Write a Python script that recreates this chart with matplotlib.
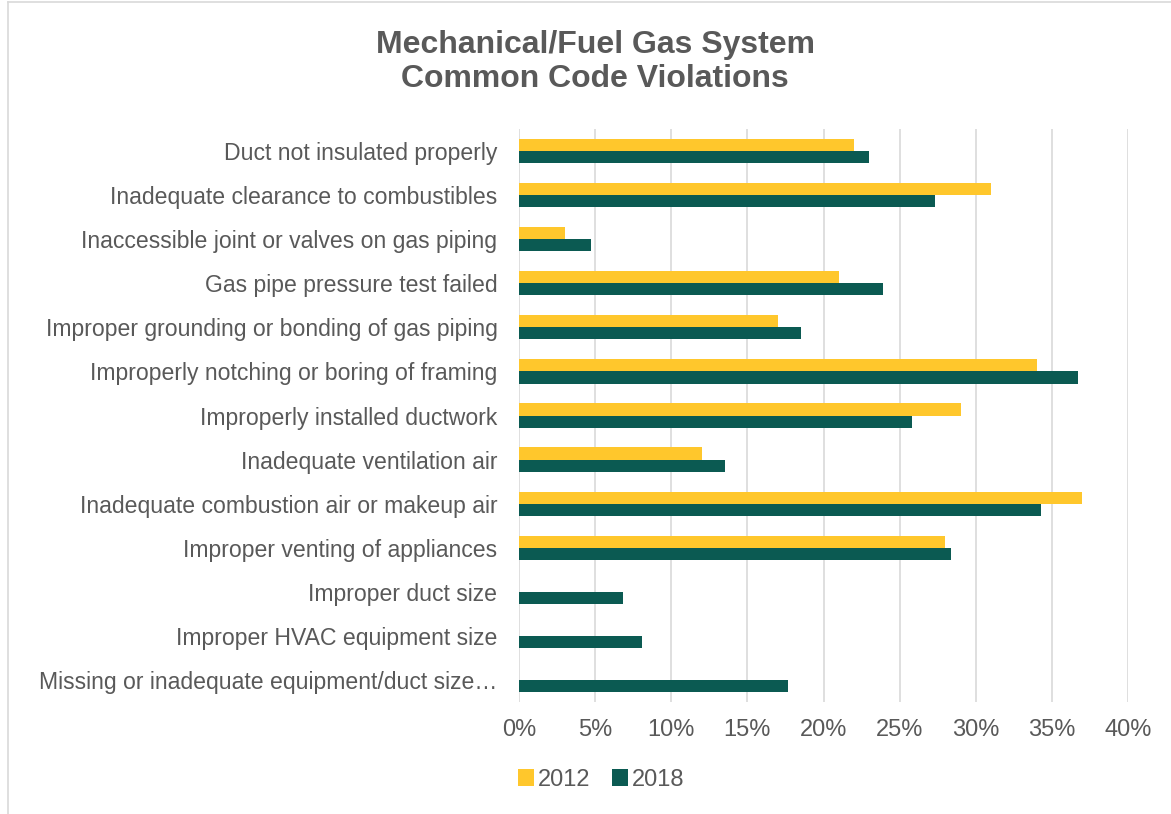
import numpy as np
import matplotlib
matplotlib.use("Agg")
import matplotlib.pyplot as plt
from matplotlib.lines import Line2D
from matplotlib.ticker import PercentFormatter

plt.rcParams['font.family'] = ['Liberation Sans', 'DejaVu Sans']

categories = [
    "Duct not insulated properly",
    "Inadequate clearance to combustibles",
    "Inaccessible joint or valves on gas piping",
    "Gas pipe pressure test failed",
    "Improper grounding or bonding of gas piping",
    "Improperly notching or boring of framing",
    "Improperly installed ductwork",
    "Inadequate ventilation air",
    "Inadequate combustion air or makeup air",
    "Improper venting of appliances",
    "Improper duct size",
    "Improper HVAC equipment size",
    "Missing or inadequate equipment/duct size\u2026",
]
values_2012 = [22, 31, 3, 21, 17, 34, 29, 12, 37, 28, 0, 0, 0]
values_2018 = [23, 27.3, 4.7, 23.9, 18.5, 36.7, 25.8, 13.5, 34.3, 28.4, 6.8, 8.1, 17.7]
series_names = ["2012", "2018"]
x_ticks = [0, 5, 10, 15, 20, 25, 30, 35, 40]

yellow = "#FFC72C"
green = "#0B5A52"
text_grey = "#595959"

W, H = 1171, 814
fig = plt.figure(figsize=(W / 100, H / 100), dpi=100)
ax = fig.add_axes([519 / W, 1 - 702 / H, (1128 - 519) / W, (702 - 129) / H])

y = np.arange(len(categories))
bh = 0.275
ax.barh(y - bh / 2, values_2012, height=bh, color=yellow, linewidth=0, label=series_names[0], zorder=3)
ax.barh(y + bh / 2, values_2018, height=bh, color=green, linewidth=0, label=series_names[1], zorder=3)

ax.set_ylim(len(categories) - 0.5, -0.5)
ax.set_xlim(0, 40)
ax.set_xticks(x_ticks)
ax.xaxis.set_major_formatter(PercentFormatter(decimals=0))
ax.set_yticks(y)
ax.set_yticklabels(categories)
ax.tick_params(axis='y', length=0, pad=15.5, labelsize=16.6, labelcolor=text_grey)
ax.tick_params(axis='x', length=0, pad=12, labelsize=17, labelcolor=text_grey)
ax.grid(axis='x', color="#D9D9D9", linewidth=1.2, zorder=0)
for s in ax.spines.values():
    s.set_visible(False)

fig.text(595 / W, 1 - 62 / H, "Mechanical/Fuel Gas System\nCommon Code Violations",
         ha='center', va='center', fontsize=23, fontweight='bold', color=text_grey,
         linespacing=1.2)

fig.legend(loc='center', bbox_to_anchor=(601 / W, 1 - 780 / H), ncol=2, frameon=False,
           fontsize=17, labelcolor=text_grey, handlelength=0.7, handleheight=0.7,
           handletextpad=0.15, columnspacing=0.9)

# chart area border
fig.add_artist(Line2D([8 / W, 8 / W], [0, 1 - 2 / H], color="#D9D9D9", linewidth=1.2))
fig.add_artist(Line2D([8 / W, 1], [1 - 2 / H, 1 - 2 / H], color="#D9D9D9", linewidth=1.2))

fig.savefig("out.png", dpi=100)
